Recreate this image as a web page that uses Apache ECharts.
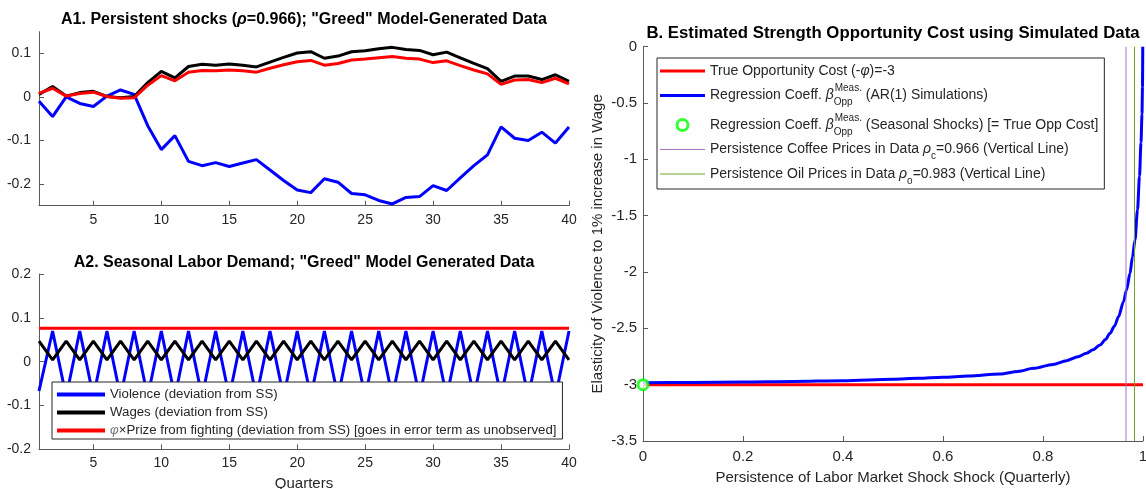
<!DOCTYPE html>
<html>
<head>
<meta charset="utf-8">
<script src="https://cdn.jsdelivr.net/npm/echarts@6/dist/echarts.min.js"></script>
<style>
html,body{margin:0;padding:0;background:#fff;}
#chart{width:1146px;height:489px;}
</style>
</head>
<body>
<div id="chart"></div>
<script>
// ---------- data ----------
const quarters = [1,2,3,4,5,6,7,8,9,10,11,12,13,14,15,16,17,18,19,20,21,22,23,24,25,26,27,28,29,30,31,32,33,34,35,36,37,38,39,40];

const a1Violence = [-0.010,-0.045,0.000,-0.015,-0.022,0.002,0.016,0.006,-0.066,-0.121,-0.089,-0.148,-0.158,-0.151,-0.160,-0.152,-0.144,-0.168,-0.192,-0.214,-0.220,-0.188,-0.196,-0.222,-0.225,-0.238,-0.246,-0.231,-0.229,-0.204,-0.215,-0.186,-0.158,-0.133,-0.069,-0.095,-0.100,-0.081,-0.106,-0.069];
const a1Wages = [0.006,0.024,0.002,0.010,0.013,0.001,-0.002,0.001,0.033,0.059,0.044,0.070,0.075,0.073,0.076,0.073,0.069,0.080,0.091,0.101,0.104,0.089,0.094,0.104,0.106,0.111,0.114,0.109,0.107,0.097,0.103,0.090,0.077,0.065,0.036,0.048,0.048,0.040,0.051,0.036];
const a1Prize = [0.008,0.020,0.002,0.008,0.011,0.001,-0.003,-0.002,0.027,0.049,0.037,0.057,0.061,0.060,0.062,0.060,0.057,0.066,0.074,0.081,0.084,0.073,0.077,0.085,0.087,0.090,0.093,0.089,0.087,0.079,0.083,0.072,0.062,0.053,0.029,0.039,0.040,0.033,0.043,0.030];

const a2Violence = [-0.067,0.070,-0.080,0.070,-0.080,0.070,-0.080,0.070,-0.080,0.070,-0.080,0.070,-0.080,0.070,-0.080,0.070,-0.080,0.070,-0.080,0.070,-0.080,0.070,-0.080,0.070,-0.080,0.070,-0.080,0.070,-0.080,0.070,-0.080,0.070,-0.080,0.070,-0.080,0.070,-0.080,0.070,-0.080,0.070];
const a2Wages = [0.047,0.004,0.047,0.004,0.047,0.004,0.047,0.004,0.047,0.004,0.047,0.004,0.047,0.004,0.047,0.004,0.047,0.004,0.047,0.004,0.047,0.004,0.047,0.004,0.047,0.004,0.047,0.004,0.047,0.004,0.047,0.004,0.047,0.004,0.047,0.004,0.047,0.004,0.047,0.004];
const a2Prize = [0.076,0.076,0.076,0.076,0.076,0.076,0.076,0.076,0.076,0.076,0.076,0.076,0.076,0.076,0.076,0.076,0.076,0.076,0.076,0.076,0.076,0.076,0.076,0.076,0.076,0.076,0.076,0.076,0.076,0.076,0.076,0.076,0.076,0.076,0.076,0.076,0.076,0.076,0.076,0.076];

const persistence = [0,0.1,0.2,0.3,0.4,0.5,0.55,0.6,0.65,0.714,0.75,0.781,0.82,0.847,0.87,0.887,0.9,0.914,0.925,0.934,0.943,0.951,0.961,0.967,0.974,0.979,0.984,0.989,0.993,0.996,0.998,0.999,0.9995];
const betaAR1 = [-2.982,-2.980,-2.977,-2.972,-2.965,-2.952,-2.944,-2.935,-2.923,-2.905,-2.882,-2.855,-2.820,-2.787,-2.752,-2.722,-2.690,-2.648,-2.600,-2.544,-2.480,-2.397,-2.263,-2.160,-2.012,-1.864,-1.716,-1.450,-1.150,-0.850,-0.600,-0.350,0.000];
const trueCostX = [0, 1];
const trueCost = [-3, -3];
const seasonalX = [0];
const seasonalBeta = [-3];
const rhoCoffee = [0.966, 0.966];
const rhoOil = [0.983, 0.983];
const verticalSpan = [-3.5, 0];

const aXTicks = [5,10,15,20,25,30,35,40];
const a1YTicks = [-0.2,-0.1,0,0.1];
const a2YTicks = [-0.2,-0.1,0,0.1,0.2];

// ---------- helpers ----------
const FONT = "'Liberation Sans', Arial, Helvetica, sans-serif";
const TXT = '#262626';
const AX = '#5a5a5a';
const PURPLE = '#a373c2';
const OLIVE = '#6fa52a';
const zip = (xs, ys) => xs.map((x, i) => [x, ys[i]]);

function axisBase(extra) {
  return Object.assign({
    type: 'value',
    axisLine: { show: true, onZero: false, lineStyle: { color: AX, width: 1 } },
    axisTick: { show: true, inside: true, length: 5, lineStyle: { color: AX, width: 1 } },
    axisLabel: { color: TXT, fontSize: 14, fontFamily: FONT, margin: 7 },
    splitLine: { show: false }
  }, extra);
}

function lineSeries(name, xi, yi, data, color, width, extra) {
  return Object.assign({
    name, type: 'line', xAxisIndex: xi, yAxisIndex: yi, data,
    symbol: 'none', showSymbol: false, silent: true, clip: true,
    lineStyle: { color, width }, itemStyle: { color }
  }, extra || {});
}

const NAME_V = 'Violence (deviation from SS)';
const NAME_W = 'Wages (deviation from SS)';
const NAME_P = 'φ×Prize from fighting (deviation from SS) [goes in error term as unobserved]';
const NAME_TRUE = 'True Opportunity Cost (-φ)=-3';
const NAME_AR = 'Regression Coeff. β Meas. Opp (AR(1) Simulations)';
const NAME_SEAS = 'Regression Coeff. β Meas. Opp (Seasonal Shocks) [= True Opp Cost]';
const NAME_COF = 'Persistence Coffee Prices in Data ρc=0.966 (Vertical Line)';
const NAME_OIL = 'Persistence Oil Prices in Data ρo=0.983 (Vertical Line)';

const bLegendText = {};
bLegendText[NAME_TRUE] = '{t|True Opportunity Cost (-}{g|φ}{t|)=-3}';
bLegendText[NAME_AR] = '{t|Regression Coeff. }{g|β}{sub|Opp}{sup|Meas.}{t| (AR(1) Simulations)}';
bLegendText[NAME_SEAS] = '{t|Regression Coeff. }{g|β}{sub|Opp}{sup|Meas.}{t| (Seasonal Shocks) [= True Opp Cost]}';
bLegendText[NAME_COF] = '{t|Persistence Coffee Prices in Data }{g|ρ}{sub2|c}{t|=0.966 (Vertical Line)}';
bLegendText[NAME_OIL] = '{t|Persistence Oil Prices in Data }{g|ρ}{sub2|o}{t|=0.983 (Vertical Line)}';

const ICON_A = 'path://M0,0L48,0L48,4L0,4Z';
const ICON_B_THICK = 'path://M0,0L45,0L45,3L0,3Z';
const ICON_B_THIN = 'path://M0,0L45,0L45,1.2L0,1.2Z';

const chart = echarts.init(document.getElementById('chart'), null, { renderer: 'canvas' });

const option = {
  animation: false,
  backgroundColor: '#ffffff',
  textStyle: { fontFamily: FONT },
  title: [
    {
      text: '{b|A1. Persistent shocks (}{bi|ρ}{b|=0.966); "Greed" Model-Generated Data}',
      left: 304, top: 20, textAlign: 'center', textVerticalAlign: 'middle', padding: 0,
      textStyle: { rich: {
        b: { fontSize: 16, fontWeight: 'bold', color: '#000', fontFamily: FONT },
        bi: { fontSize: 16, fontWeight: 'bold', fontStyle: 'italic', color: '#000', fontFamily: FONT }
      } }
    },
    {
      text: 'A2. Seasonal Labor Demand; "Greed" Model Generated Data',
      left: 304, top: 263, textAlign: 'center', textVerticalAlign: 'middle', padding: 0,
      textStyle: { fontSize: 16, fontWeight: 'bold', color: '#000', fontFamily: FONT }
    },
    {
      text: 'B. Estimated Strength Opportunity Cost using Simulated Data',
      left: 893, top: 33, textAlign: 'center', textVerticalAlign: 'middle', padding: 0,
      textStyle: { fontSize: 16.8, fontWeight: 'bold', color: '#000', fontFamily: FONT }
    }
  ],
  grid: [
    { left: 39, top: 31.7, width: 530, height: 174, containLabel: false, outerBoundsMode: 'none' },
    { left: 39, top: 274, width: 530, height: 175.3, containLabel: false, outerBoundsMode: 'none' },
    { left: 643, top: 46.7, width: 500, height: 394.3, containLabel: false, outerBoundsMode: 'none' }
  ],
  xAxis: [
    axisBase({ gridIndex: 0, min: 1, max: 40,
      axisLabel: { color: TXT, fontSize: 14, fontFamily: FONT, margin: 7, customValues: aXTicks },
      axisTick: { show: true, inside: true, length: 5, lineStyle: { color: AX }, customValues: aXTicks } }),
    axisBase({ gridIndex: 1, min: 1, max: 40,
      name: 'Quarters', nameLocation: 'middle', nameGap: 27,
      nameTextStyle: { color: TXT, fontSize: 15, fontFamily: FONT },
      axisLabel: { color: TXT, fontSize: 14, fontFamily: FONT, margin: 7, customValues: aXTicks },
      axisTick: { show: true, inside: true, length: 5, lineStyle: { color: AX }, customValues: aXTicks } }),
    axisBase({ gridIndex: 2, min: 0, max: 1, interval: 0.2,
      name: 'Persistence of Labor Market Shock Shock (Quarterly)', nameLocation: 'middle', nameGap: 29,
      nameTextStyle: { color: TXT, fontSize: 15, fontFamily: FONT },
      axisLabel: { color: TXT, fontSize: 15, fontFamily: FONT, margin: 8 } })
  ],
  yAxis: [
    axisBase({ gridIndex: 0, min: -0.25, max: 0.15,
      axisLabel: { color: TXT, fontSize: 14, fontFamily: FONT, margin: 8, customValues: a1YTicks },
      axisTick: { show: true, inside: true, length: 5, lineStyle: { color: AX }, customValues: a1YTicks } }),
    axisBase({ gridIndex: 1, min: -0.2, max: 0.2,
      axisLabel: { color: TXT, fontSize: 14, fontFamily: FONT, margin: 8, customValues: a2YTicks },
      axisTick: { show: true, inside: true, length: 5, lineStyle: { color: AX }, customValues: a2YTicks } }),
    axisBase({ gridIndex: 2, min: -3.5, max: 0, interval: 0.5,
      name: 'Elasticity of Violence to 1% increase in Wage', nameLocation: 'middle', nameGap: 38,
      nameTextStyle: { color: TXT, fontSize: 15, fontFamily: FONT },
      axisLabel: { color: TXT, fontSize: 15, fontFamily: FONT, margin: 6 } })
  ],
  legend: [
    {
      orient: 'vertical', left: 52, top: 382, zlevel: 1, z: 10,
      padding: [6, 6, 2, 5], itemGap: 5, itemWidth: 48, itemHeight: 14,
      backgroundColor: '#ffffff', borderColor: '#262626', borderWidth: 1,
      selectedMode: false,
      data: [
        { name: NAME_V, icon: ICON_A },
        { name: NAME_W, icon: ICON_A },
        { name: NAME_P, icon: ICON_A }
      ],
      formatter: function (n) {
        if (n === NAME_P) return '{gp|φ}{t|×Prize from fighting (deviation from SS) [goes in error term as unobserved]}';
        return '{t|' + n + '}';
      },
      textStyle: { rich: {
        t: { fontSize: 13.25, lineHeight: 15, color: TXT, fontFamily: FONT, verticalAlign: 'middle' },
        gp: { fontSize: 13.25, lineHeight: 15, color: '#777', fontStyle: 'italic', fontFamily: FONT, verticalAlign: 'middle' }
      } }
    },
    {
      orient: 'vertical', left: 657, top: 58, zlevel: 1, z: 10,
      padding: [6, 6, 3, 3], itemGap: 5.5, itemWidth: 45, itemHeight: 11,
      backgroundColor: '#ffffff', borderColor: '#262626', borderWidth: 1,
      selectedMode: false,
      data: [
        { name: NAME_TRUE, icon: ICON_B_THICK },
        { name: NAME_AR, icon: ICON_B_THICK },
        { name: NAME_SEAS, icon: 'circle', itemStyle: { color: '#ffffff', borderColor: '#00ff00', borderWidth: 3 } },
        { name: NAME_COF, icon: ICON_B_THIN, itemStyle: { color: PURPLE, borderWidth: 0 } },
        { name: NAME_OIL, icon: ICON_B_THIN, itemStyle: { color: OLIVE, borderWidth: 0 } }
      ],
      formatter: function (n) { return bLegendText[n] || n; },
      textStyle: { rich: {
        t: { fontSize: 14, lineHeight: 24, color: TXT, fontFamily: FONT, verticalAlign: 'middle' },
        g: { fontSize: 14, lineHeight: 24, color: TXT, fontStyle: 'italic', fontFamily: FONT, verticalAlign: 'middle' },
        sup: { fontSize: 10, lineHeight: 11, color: TXT, fontFamily: FONT, verticalAlign: 'top' },
        sub: { fontSize: 10, lineHeight: 11, color: TXT, fontFamily: FONT, verticalAlign: 'bottom', width: 1 },
        sub2: { fontSize: 10, lineHeight: 9, color: TXT, fontFamily: FONT, verticalAlign: 'bottom' }
      } }
    }
  ],
  series: [
    lineSeries(NAME_V, 0, 0, zip(quarters, a1Violence), '#0000ff', 3),
    lineSeries(NAME_W, 0, 0, zip(quarters, a1Wages), '#000000', 3),
    lineSeries(NAME_P, 0, 0, zip(quarters, a1Prize), '#ff0000', 3),
    lineSeries(NAME_V, 1, 1, zip(quarters, a2Violence), '#0000ff', 3),
    lineSeries(NAME_W, 1, 1, zip(quarters, a2Wages), '#000000', 3),
    lineSeries(NAME_P, 1, 1, zip(quarters, a2Prize), '#ff0000', 3),
    lineSeries(NAME_TRUE, 2, 2, zip(trueCostX, trueCost), '#ff0000', 3),
    lineSeries(NAME_AR, 2, 2, zip(persistence, betaAR1), '#0000ff', 3, { smooth: 0.3, smoothMonotone: 'x' }),
    {
      name: NAME_SEAS, type: 'scatter', xAxisIndex: 2, yAxisIndex: 2,
      data: zip(seasonalX, seasonalBeta), symbol: 'circle', symbolSize: 10, clip: false, silent: true,
      itemStyle: { color: '#ffffff', borderColor: '#00ff00', borderWidth: 3 }, z: 5
    },
    lineSeries(NAME_COF, 2, 2, zip(rhoCoffee, verticalSpan), PURPLE, 1),
    lineSeries(NAME_OIL, 2, 2, zip(rhoOil, verticalSpan), OLIVE, 1)
  ]
};

chart.setOption(option);
</script>
</body>
</html>
